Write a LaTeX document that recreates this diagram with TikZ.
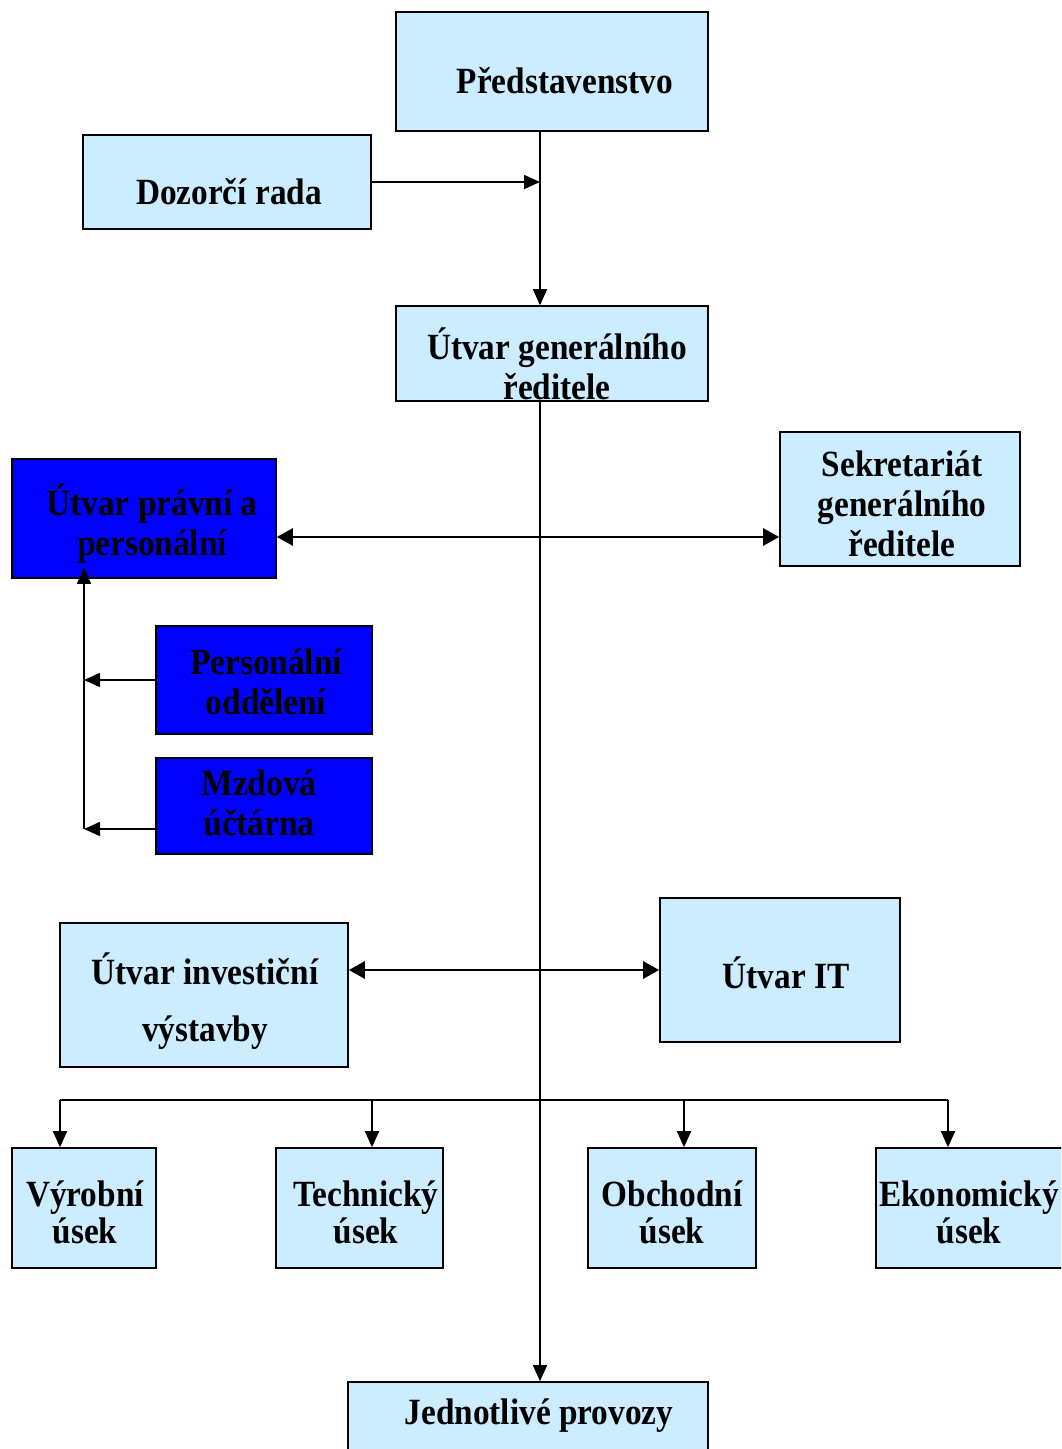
\documentclass[tikz,border=0pt]{standalone}
\usepackage{fontspec}
\setmainfont{Liberation Serif}[FakeStretch=0.9]
\usetikzlibrary{arrows.meta}
\definecolor{lblue}{RGB}{204,236,255}
\definecolor{dblue}{RGB}{0,0,255}
\begin{document}
\begin{tikzpicture}[x=1pt,y=-1pt,
  box/.style={draw=black,line width=1.6pt,fill=lblue,inner sep=0pt},
  dbox/.style={box,fill=dblue},
  txt/.style={font=\fontsize{37pt}{40pt}\selectfont\bfseries,align=center,inner sep=0pt},
  btxt/.style={txt,font=\fontsize{37pt}{37pt}\selectfont\bfseries},
  conn/.style={line width=1.6pt},
  arr/.style={conn,-{Triangle[length=16pt,width=14pt]}},
  darr/.style={line width=2.6pt,{Triangle[length=16pt,width=17pt]}-{Triangle[length=16pt,width=17pt]}}]
\useasboundingbox (0,0) rectangle (1061,1449);
\begin{scope}
\clip (0,0) rectangle (1061,1449);
% boxes
\node[box,minimum width=312pt,minimum height=119pt] (pred) at (552,71.5) {};
\node[box,minimum width=288pt,minimum height=94pt] (doz) at (227,182) {};
\node[box,minimum width=312pt,minimum height=95pt] (gen) at (552,353.5) {};
\node[dbox,minimum width=264pt,minimum height=119pt] (prav) at (144,518.5) {};
\node[box,minimum width=240pt,minimum height=134pt] (sek) at (900,499) {};
\node[dbox,minimum width=216pt,minimum height=108pt] (pers) at (264,680) {};
\node[dbox,minimum width=216pt,minimum height=96pt] (mzd) at (264,806) {};
\node[box,minimum width=288pt,minimum height=144pt] (inv) at (204,995) {};
\node[box,minimum width=240pt,minimum height=144pt] (it) at (780,970) {};
\node[box,minimum width=144pt,minimum height=120pt] (vyr) at (84,1208) {};
\node[box,minimum width=167pt,minimum height=120pt] (tech) at (359.5,1208) {};
\node[box,minimum width=168pt,minimum height=120pt] (obch) at (672,1208) {};
\node[box,minimum width=190pt,minimum height=120pt] (eko) at (971,1208) {};
\node[box,minimum width=360pt,minimum height=90pt] (jed) at (528,1427) {};
% texts
\node[txt] (predT) at (565,81) {Představenstvo};
\node[txt] (dozT) at (229,192) {Dozorčí rada};
\node[txt] (genT) at (557,364) {Útvar generálního\\ředitele};
\node[txt] (pravT) at (152,524) {Útvar právní a\\personální};
\node[txt] (sekT) at (902,504) {Sekretariát\\generálního\\ředitele};
\node[txt] (persT) at (266,682) {Personální\\oddělení};
\node[txt] (mzdT) at (259,803) {Mzdová\\účtárna};
\node[txt] (invT) at (205,1001) {Útvar investiční\\[17pt]výstavby};
\node[txt] (itT) at (786,973) {Útvar IT};
\node[btxt] (vyrT) at (85,1212) {Výrobní\\úsek};
\node[btxt] (techT) at (366,1212) {Technický\\úsek};
\node[btxt] (obchT) at (672,1212) {Obchodní\\úsek};
\node[btxt] (ekoT) at (969,1212) {Ekonomický\\úsek};
\node[txt] (jedT) at (539,1416) {Jednotlivé provozy};
% coordinates
\coordinate (j1) at (540,182);
\coordinate (h1) at (540,537);
\coordinate (m1) at (84,829);
\coordinate (h2) at (540,970);
\coordinate (b1) at (60,1100);
\coordinate (b2) at (372,1100);
\coordinate (b3) at (684,1100);
\coordinate (b4) at (948,1100);
% connectors
\draw[arr] (doz.east) -- (j1);
\draw[arr] (pred.south -| j1) -- (gen.north -| j1);
\draw[arr] (gen.south -| j1) -- (jed.north -| j1);
\draw[darr] (h1 -| prav.east) -- (h1 -| sek.west);
\draw[arr] (pers.west) -- (pers.west -| m1);
\draw[arr] (m1 -| mzd.west) -- (m1);
\draw[arr,shorten >=-11pt] (m1) -- (m1 |- prav.south);
\draw[darr] (h2 -| inv.east) -- (h2 -| it.west);
\draw[conn] (b1) -- (b4);
\draw[arr] (b1) -- (b1 |- vyr.north);
\draw[arr] (b2) -- (b2 |- tech.north);
\draw[arr] (b3) -- (b3 |- obch.north);
\draw[arr] (b4) -- (b4 |- eko.north);
\end{scope}
\end{tikzpicture}
\end{document}
